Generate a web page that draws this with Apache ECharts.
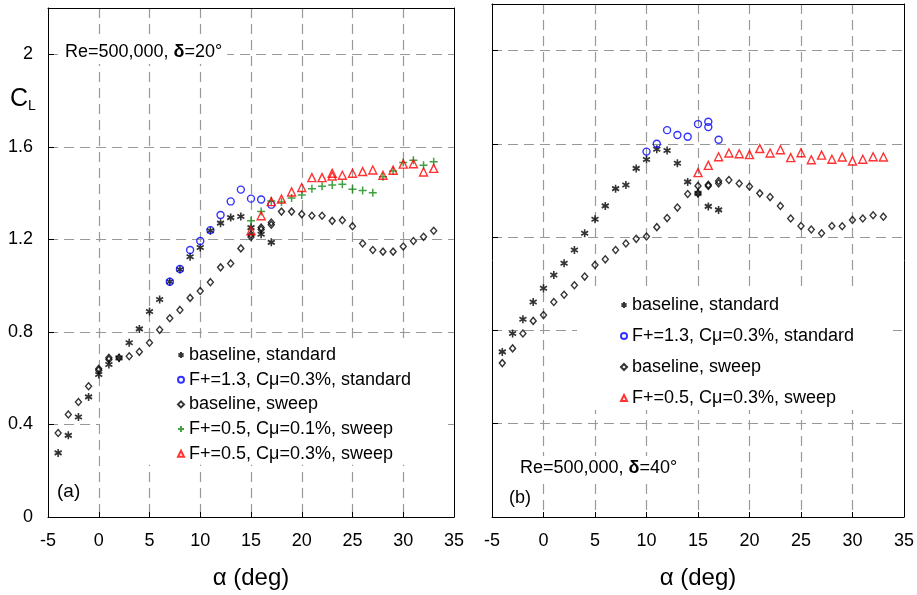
<!DOCTYPE html>
<html>
<head>
<meta charset="utf-8">
<script src="https://cdn.jsdelivr.net/npm/echarts@6/dist/echarts.min.js"></script>
<style>
html,body{margin:0;padding:0;background:#fff;}
#c{width:917px;height:595px;}
</style>
</head>
<body>
<div id="c"></div>
<script>
// ---------- data: panel (a), delta = 20 deg ----------
const xTickLabels = [-5, 0, 5, 10, 15, 20, 25, 30, 35];
const yTickLabels = [0, 0.4, 0.8, 1.2, 1.6, 2];

const alphaBaseStdA = [-4,-3,-2,-1,0,1,2,3,4,5,6,7,8,9,10,11,12,13,14,15,16,17];
const clBaseStdA    = [0.277,0.353,0.432,0.519,0.616,0.659,0.688,0.753,0.813,0.888,0.940,1.017,1.070,1.125,1.165,1.237,1.270,1.294,1.299,1.251,1.222,1.187];

const alphaF13A = [7,8,9,10,11,12,13,14,15,16,17];
const clF13A    = [1.017,1.072,1.154,1.193,1.240,1.305,1.364,1.415,1.376,1.372,1.350];

const alphaBaseSweepA = [-4,-3,-2,-1,0,0,1,1,2,3,4,5,6,7,8,9,10,11,12,13,14,15,15,16,16,17,17,18,19,20,21,22,23,24,25,26,27,28,29,30,31,32,33];
const clBaseSweepA    = [0.363,0.443,0.497,0.565,0.634,0.641,0.681,0.688,0.688,0.695,0.714,0.753,0.809,0.859,0.895,0.947,0.977,1.015,1.079,1.096,1.161,1.220,1.210,1.251,1.243,1.273,1.263,1.320,1.320,1.309,1.302,1.302,1.280,1.283,1.257,1.182,1.154,1.147,1.147,1.169,1.193,1.211,1.237];

const alphaF05C01A = [15,16,17,18,19,20,21,22,23,24,25,26,27,28,29,30,31,32,33];
const clF05C01A    = [1.280,1.320,1.366,1.362,1.379,1.392,1.419,1.430,1.435,1.438,1.417,1.411,1.401,1.471,1.496,1.532,1.542,1.520,1.536];

const alphaF05C03A = [15,16,17,18,19,20,21,22,23,23,24,25,26,27,28,29,30,31,32,33];
const clF05C03A    = [1.237,1.302,1.363,1.374,1.405,1.424,1.467,1.467,1.486,1.474,1.477,1.486,1.493,1.500,1.477,1.499,1.525,1.527,1.491,1.507];

// ---------- data: panel (b), delta = 40 deg ----------
const alphaBaseStdB = [-4,-3,-2,-1,0,1,2,3,4,5,6,7,8,9,10,11,12,13,14,15,16,17];
const clBaseStdB    = [0.708,0.787,0.848,0.922,0.981,1.038,1.088,1.145,1.217,1.277,1.334,1.408,1.424,1.495,1.533,1.577,1.572,1.517,1.437,1.388,1.332,1.317];

const alphaF13B = [10,11,12,13,14,15,16,16,17];
const clF13B    = [1.567,1.601,1.659,1.638,1.631,1.685,1.695,1.672,1.618];

const alphaBaseSweepB = [-4,-3,-2,-1,0,1,2,3,4,5,6,7,8,9,10,11,12,13,14,15,15,16,16,17,17,18,19,20,21,22,23,24,25,26,27,28,29,30,31,32,33];
const clBaseSweepB    = [0.660,0.723,0.787,0.841,0.866,0.922,0.953,0.994,1.031,1.081,1.105,1.145,1.173,1.193,1.203,1.243,1.282,1.327,1.385,1.420,1.388,1.425,1.420,1.441,1.431,1.445,1.430,1.417,1.388,1.372,1.334,1.280,1.248,1.233,1.217,1.248,1.247,1.274,1.280,1.294,1.288];

const alphaF05C03B = [15,16,17,18,19,20,21,22,23,24,25,26,27,28,29,30,31,32,33];
const clF05C03B    = [1.477,1.508,1.545,1.561,1.558,1.554,1.580,1.561,1.575,1.541,1.562,1.532,1.552,1.534,1.544,1.527,1.534,1.545,1.544];

const NAMES = {
  bs: 'baseline, standard',
  f13: 'F+=1.3, Cμ=0.3%, standard',
  bw: 'baseline, sweep',
  f05c01: 'F+=0.5, Cμ=0.1%, sweep',
  f05c03: 'F+=0.5, Cμ=0.3%, sweep'
};

// ---------- rendering ----------
const FONT = "'Liberation Sans', Arial, Helvetica, sans-serif";
const zip = (xs, ys) => xs.map((x, i) => [x, ys[i]]);

const ASTER = 'path://M0,-10L0,10M-8.66,-5L8.66,5M-8.66,5L8.66,-5';
const PLUS = 'path://M0,-10L0,10M-10,0L10,0';

const STYLES = {
  bs: { symbol: ASTER, symbolSize: [7, 8], itemStyle: { color: 'rgba(0,0,0,0)', borderColor: '#000', borderWidth: 1.7 } },
  f13: { symbol: 'circle', symbolSize: 7, itemStyle: { color: 'rgba(0,0,0,0)', borderColor: '#0000ff', borderWidth: 1.4 } },
  bw: { symbol: 'diamond', symbolSize: [6, 7], itemStyle: { color: 'rgba(0,0,0,0)', borderColor: '#000', borderWidth: 1.4 } },
  f05c01: { symbol: PLUS, symbolSize: 8, itemStyle: { color: 'rgba(0,0,0,0)', borderColor: '#138a13', borderWidth: 1.5 } },
  f05c03: { symbol: 'triangle', symbolSize: [8, 8], itemStyle: { color: 'rgba(0,0,0,0)', borderColor: '#ff0000', borderWidth: 1.4 } }
};

function series(key, data, idx) {
  const s = STYLES[key];
  return Object.assign({
    type: 'scatter', name: NAMES[key], data: data,
    xAxisIndex: idx, yAxisIndex: idx, z: 3,
    emphasis: { disabled: true }, animation: false
  }, s);
}

const gridLine = { show: true, showMinLine: false, showMaxLine: false,
  lineStyle: { color: '#999999', width: 1.2, type: [10, 6] } };

function xAxisMain(gi) {
  return {
    type: 'value', gridIndex: gi, min: xTickLabels[0], max: xTickLabels[xTickLabels.length - 1], interval: 5,
    position: 'bottom',
    axisLine: { show: true, onZero: false, lineStyle: { color: '#000', width: 1 } },
    axisTick: { show: true, inside: true, length: 5, lineStyle: { color: '#000' } },
    axisLabel: { fontSize: 18, color: '#000', fontFamily: FONT, margin: 15 },
    splitLine: gridLine,
    name: 'α (deg)', nameLocation: 'middle', nameGap: 49,
    nameTextStyle: { fontSize: 24, color: '#000', fontFamily: FONT }
  };
}
function xAxisTop(gi) {
  return {
    type: 'value', gridIndex: gi, min: -5, max: 35, position: 'top',
    axisLine: { show: true, onZero: false, lineStyle: { color: '#000', width: 1 } },
    axisTick: { show: false }, axisLabel: { show: false }, splitLine: { show: false }
  };
}
function yAxisMain(gi, labels) {
  return {
    type: 'value', gridIndex: gi, min: 0, max: 2.2, interval: 0.4, position: 'left',
    axisLine: { show: true, onZero: false, lineStyle: { color: '#000', width: 1 } },
    axisTick: { show: true, inside: true, length: 6, lineStyle: { color: '#000' } },
    axisLabel: { show: labels, showMaxLabel: false, fontSize: 18, color: '#000', fontFamily: FONT, margin: 15,
      formatter: v => (yTickLabels.some(t => Math.abs(t - v) < 1e-6) ? String(Math.round(v * 10) / 10) : '') },
    splitLine: gridLine
  };
}
function yAxisRight(gi) {
  return {
    type: 'value', gridIndex: gi, min: 0, max: 2.2, position: 'right',
    axisLine: { show: true, onZero: false, lineStyle: { color: '#000', width: 1 } },
    axisTick: { show: false }, axisLabel: { show: false }, splitLine: { show: false }
  };
}

const chart = echarts.init(document.getElementById('c'), null, { renderer: 'canvas' });

const textStyleLegend = { fontSize: 18, color: '#000', fontFamily: FONT, lineHeight: 20 };

chart.setOption({
  animation: false,
  backgroundColor: '#fff',
  grid: [
    { left: 48, right: 463, top: 8, bottom: 78 },
    { left: 492, right: 13, top: 4, bottom: 77 }
  ],
  xAxis: [xAxisMain(0), xAxisMain(1), xAxisTop(0), xAxisTop(1)],
  yAxis: [yAxisMain(0, true), yAxisMain(1, false), yAxisRight(0), yAxisRight(1)],
  legend: [
    {
      left: 100, top: 343, orient: 'vertical', z: 1,
      data: [NAMES.bs, NAMES.f13, NAMES.bw, NAMES.f05c01, NAMES.f05c03],
      backgroundColor: '#fff', padding: [2, 34, 1, 77],
      itemWidth: 6, itemHeight: 6, itemGap: 4.7, selectedMode: false,
      textStyle: textStyleLegend
    },
    {
      left: 577, top: 290, orient: 'vertical', z: 1,
      data: [NAMES.bs, NAMES.f13, NAMES.bw, NAMES.f05c03],
      backgroundColor: '#fff', padding: [5, 39, 2, 43],
      itemWidth: 6, itemHeight: 6, itemGap: 11, selectedMode: false,
      textStyle: textStyleLegend
    }
  ],
  graphic: [
    { type: 'text', x: 60, y: 52, z: 1,
      style: { text: 'Re=500,000, {b|δ}=20°', font: '18px ' + FONT, fill: '#000',
        verticalAlign: 'middle', align: 'left', backgroundColor: '#fff', padding: [3, 5, 3, 5],
        rich: { b: { fontWeight: 'bold', fontSize: 18, fontFamily: FONT } } } },
    { type: 'text', x: 516, y: 468, z: 1,
      style: { text: 'Re=500,000, {b|δ}=40°', font: '18px ' + FONT, fill: '#000',
        verticalAlign: 'middle', align: 'left', backgroundColor: '#fff', padding: [3, 4, 3, 4],
        rich: { b: { fontWeight: 'bold', fontSize: 18, fontFamily: FONT } } } },
    { type: 'text', x: 57, y: 492, z: 1,
      style: { text: '(a)', font: '19px ' + FONT, fill: '#000', verticalAlign: 'middle', align: 'left' } },
    { type: 'text', x: 509, y: 498, z: 1,
      style: { text: '(b)', font: '18px ' + FONT, fill: '#000', verticalAlign: 'middle', align: 'left' } },
    { type: 'text', x: 10, y: 99, z: 1,
      style: { text: 'C', font: '25px ' + FONT, fill: '#000', verticalAlign: 'middle', align: 'left' } },
    { type: 'text', x: 28, y: 106.5, z: 1,
      style: { text: 'L', font: '14px ' + FONT, fill: '#000', verticalAlign: 'middle', align: 'left' } }
  ],
  series: [
    series('bw', zip(alphaBaseSweepA, clBaseSweepA), 0),
    series('bs', zip(alphaBaseStdA, clBaseStdA), 0),
    series('f13', zip(alphaF13A, clF13A), 0),
    series('f05c01', zip(alphaF05C01A, clF05C01A), 0),
    series('f05c03', zip(alphaF05C03A, clF05C03A), 0),
    series('bw', zip(alphaBaseSweepB, clBaseSweepB), 1),
    series('bs', zip(alphaBaseStdB, clBaseStdB), 1),
    series('f13', zip(alphaF13B, clF13B), 1),
    series('f05c03', zip(alphaF05C03B, clF05C03B), 1)
  ]
});
</script>
</body>
</html>
